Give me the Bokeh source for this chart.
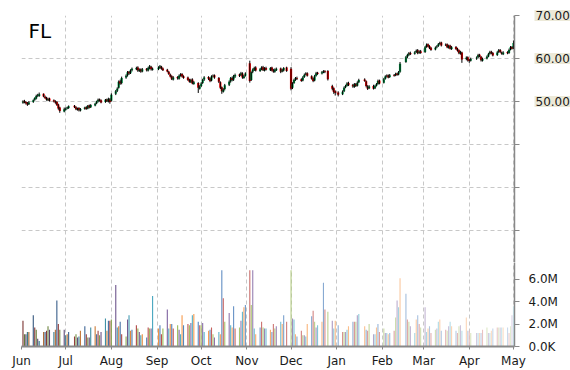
import datetime as dt
import pandas as pd
from bokeh.plotting import figure
from bokeh.models import (Range1d, FixedTicker, MonthsTicker, DatetimeTickFormatter, Label)
from bokeh.layouts import column, row
from bokeh.embed import file_html
from bokeh.resources import INLINE

ticker_symbol = "FL"
holidays = ["2014-07-04", "2014-09-01", "2014-11-27", "2014-12-25",
            "2015-01-01", "2015-01-19", "2015-02-16", "2015-04-03"]
first_day = "2014-06-02"
last_day = "2015-05-01"

# ---- prices (Jun 2014 .. May 2015), one value per trading day ----
opens = [
    # Jun
    49.7, 50.1, 49.9, 49.7, 49.4, 49.9, 50.4, 50.7, 51.4, 51.3, 51.8, 51.1, 50.9, 50.3, 50.7, 50.3, 50.1, 49.9, 49.3, 48.6, 47.7,
    # Jul
    48.1, 48.4, 48.5, 49.0, 48.7, 48.1, 48.5, 47.9, 48.3, 48.7, 48.4, 49.1, 48.7, 49.1, 49.6, 50.0, 50.5, 50.3, 49.9, 50.5, 50.0, 50.5,
    # Aug
    50.2, 51.8, 52.5, 53.2, 54.7, 54.3, 55.6, 56.1, 56.9, 56.6, 57.3, 57.5, 57.9, 57.1, 57.5, 57.0, 57.6, 57.2, 57.7, 58.1, 57.4,
    # Sep
    57.5, 57.8, 58.1, 57.7, 57.4, 56.9, 56.3, 55.9, 55.1, 55.7, 55.3, 56.0, 56.4, 55.9, 55.6, 55.1, 54.5, 55.1, 54.1, 54.3, 53.0,
    # Oct
    53.6, 54.3, 55.1, 55.7, 55.4, 54.9, 55.9, 56.1, 55.5, 54.5, 53.3, 52.3, 52.9, 53.9, 54.7, 55.5, 55.1, 55.8, 56.3, 56.1, 56.5, 55.5, 56.0,
    # Nov
    58.9, 55.0, 56.9, 57.3, 57.9, 57.1, 57.6, 58.0, 57.2, 57.8, 57.3, 57.9, 57.3, 56.9, 57.3, 57.7, 57.0, 57.2, 57.9,
    # Dec
    57.6, 53.2, 54.3, 55.1, 55.5, 55.2, 54.9, 55.7, 56.3, 56.6, 55.9, 55.4, 54.9, 56.0, 56.7, 56.5, 56.7, 57.1, 57.1, 53.6, 53.1, 52.4,
    # Jan
    52.1, 51.7, 52.4, 53.3, 53.7, 54.3, 53.9, 53.4, 54.1, 53.7, 54.5, 55.1, 54.7, 53.5, 53.1, 53.6, 53.1, 53.7, 54.1, 54.9,
    # Feb
    54.4, 55.3, 55.9, 56.1, 55.7, 56.2, 56.1, 56.5, 56.3, 56.9, 59.2, 60.4, 60.9, 61.3, 61.1, 61.5, 61.9, 61.3, 61.7,
    # Mar
    61.5, 62.7, 63.3, 62.9, 62.5, 62.1, 62.6, 62.9, 63.4, 63.7, 63.1, 63.3, 62.5, 63.0, 62.2, 62.7, 62.3, 61.9, 61.1, 61.4, 59.9, 60.3,
    # Apr
    59.7, 59.5, 60.0, 60.3, 60.9, 60.4, 59.5, 60.0, 60.5, 61.1, 61.6, 61.3, 60.8, 61.5, 62.0, 61.4, 61.0, 61.5, 61.3, 62.1, 62.7,
    # May
    62.4,
]
highs = [
    50.3, 50.4, 50.1, 49.9, 50.1, 50.5, 51.0, 51.6, 51.8, 52.1, 51.9, 51.4, 51.1, 50.9, 50.9, 50.5, 50.3, 50.1, 49.5, 48.8, 48.6,
    48.6, 48.8, 49.1, 49.2, 48.9, 48.6, 48.7, 48.5, 48.8, 48.9, 49.2, 49.3, 49.4, 49.7, 50.2, 50.7, 50.7, 50.5, 50.6, 50.7, 50.9, 50.8,
    51.9, 52.7, 53.3, 54.9, 55.1, 55.8, 56.3, 57.1, 57.1, 57.5, 57.9, 58.1, 58.2, 57.7, 57.7, 57.8, 57.8, 58.1, 58.5, 58.3, 57.9,
    58.2, 58.5, 58.3, 57.9, 57.6, 57.1, 56.5, 56.1, 55.9, 55.9, 56.3, 56.6, 56.6, 56.1, 55.8, 55.3, 55.3, 55.4, 54.8, 54.5, 53.8,
    54.5, 55.3, 55.9, 55.9, 55.6, 56.1, 56.3, 56.3, 55.7, 54.7, 53.5, 53.1, 54.1, 54.9, 55.7, 55.8, 56.2, 56.5, 56.5, 56.9, 56.8, 56.2, 56.8,
    59.5, 57.0, 57.7, 58.1, 58.2, 57.8, 58.2, 58.3, 58.0, 58.1, 58.0, 58.1, 57.6, 57.7, 57.9, 57.9, 57.6, 58.0, 58.1,
    58.0, 54.5, 55.3, 55.7, 55.8, 55.4, 55.9, 56.5, 56.8, 56.8, 56.1, 55.6, 56.2, 56.9, 56.9, 57.1, 57.3, 57.3, 57.3, 53.9, 53.3, 52.6,
    52.4, 52.6, 53.5, 53.9, 54.5, 54.6, 54.1, 54.3, 54.3, 54.7, 55.3, 55.4, 54.9, 53.8, 53.8, 53.9, 53.9, 54.3, 55.1, 55.1,
    55.5, 56.1, 56.3, 56.3, 56.4, 56.4, 56.7, 56.7, 57.1, 59.2, 60.6, 61.1, 61.5, 61.6, 61.7, 62.1, 62.2, 61.9, 62.0,
    62.9, 63.5, 63.5, 63.1, 62.7, 62.8, 63.1, 63.6, 63.9, 63.9, 63.5, 63.5, 63.2, 63.2, 62.9, 62.9, 62.5, 62.1, 61.8, 61.6, 60.5, 60.5,
    59.9, 60.2, 60.5, 61.1, 61.1, 60.6, 60.2, 60.7, 61.3, 61.8, 61.8, 61.5, 61.7, 62.2, 62.2, 61.6, 61.7, 61.7, 62.3, 62.9, 62.9,
    64.2,
]
lows = [
    49.5, 49.6, 49.3, 49.0, 49.2, 49.7, 50.2, 50.5, 51.1, 51.1, 51.0, 50.6, 50.2, 50.1, 50.0, 49.8, 49.5, 49.0, 48.1, 47.4, 47.5,
    47.9, 48.2, 48.3, 48.5, 48.0, 47.9, 47.7, 47.7, 48.1, 48.1, 48.2, 48.4, 48.5, 48.9, 49.4, 49.8, 50.0, 49.6, 49.7, 49.9, 49.8, 49.5,
    50.0, 51.5, 52.2, 53.0, 53.9, 54.0, 55.3, 55.8, 56.2, 56.4, 57.0, 57.3, 56.9, 56.9, 56.7, 56.8, 57.0, 57.0, 57.5, 57.2, 57.2,
    57.3, 57.6, 57.4, 57.1, 56.8, 56.2, 55.6, 55.0, 54.9, 55.1, 55.1, 55.8, 55.6, 55.3, 54.8, 54.4, 54.3, 54.0, 53.9, 52.0, 52.8,
    53.4, 54.1, 54.8, 55.0, 54.5, 54.7, 55.6, 55.3, 54.3, 52.9, 51.8, 52.1, 52.6, 53.6, 54.4, 54.7, 54.8, 55.5, 55.7, 55.9, 55.3, 55.3, 55.8,
    54.4, 54.8, 56.6, 57.1, 57.0, 56.9, 57.3, 57.1, 57.0, 57.2, 57.1, 57.0, 56.7, 56.7, 57.1, 56.6, 56.8, 57.0, 56.9,
    52.6, 52.9, 54.1, 54.8, 55.0, 54.6, 54.7, 55.5, 56.1, 55.8, 55.1, 54.5, 54.7, 55.8, 56.2, 56.3, 56.6, 56.6, 54.9, 52.6, 51.8, 51.4,
    51.2, 51.5, 52.2, 53.1, 53.5, 53.6, 53.2, 53.2, 53.4, 53.5, 54.3, 54.6, 53.3, 52.7, 52.9, 52.8, 52.9, 53.5, 53.9, 54.0,
    54.2, 55.1, 55.6, 55.4, 55.5, 55.8, 55.9, 56.0, 56.1, 56.7, 59.0, 60.1, 60.6, 60.8, 60.9, 61.3, 61.0, 61.1, 61.1,
    61.3, 62.5, 62.6, 62.2, 61.8, 61.9, 62.4, 62.7, 63.2, 62.8, 62.9, 62.4, 62.3, 62.1, 62.0, 62.0, 61.6, 61.0, 60.9, 59.0, 59.6, 59.3,
    59.0, 59.3, 59.7, 60.1, 60.3, 59.3, 59.3, 59.8, 60.3, 60.9, 61.0, 60.5, 60.6, 61.3, 61.3, 60.9, 60.8, 61.0, 61.1, 61.9, 62.1,
    62.2,
]
closes = [
    50.0, 49.8, 49.6, 49.3, 49.8, 50.3, 50.8, 51.3, 51.5, 51.7, 51.2, 50.8, 50.4, 50.6, 50.2, 50.0, 49.8, 49.2, 48.4, 47.8, 48.2,
    48.3, 48.6, 48.9, 48.7, 48.2, 48.4, 48.0, 48.3, 48.6, 48.3, 49.0, 48.6, 49.2, 49.5, 50.0, 50.4, 50.2, 49.8, 50.4, 50.1, 50.6, 49.9,
    51.6, 52.4, 53.0, 54.6, 54.2, 55.5, 56.0, 56.8, 56.5, 57.2, 57.6, 57.8, 57.2, 57.4, 57.0, 57.5, 57.3, 57.8, 58.2, 57.5, 57.6,
    57.9, 58.2, 57.6, 57.3, 57.0, 56.4, 55.8, 55.2, 55.6, 55.4, 56.0, 56.3, 55.8, 55.5, 55.0, 54.6, 55.0, 54.2, 54.5, 53.2, 53.5,
    54.2, 55.0, 55.6, 55.3, 54.8, 55.8, 56.0, 55.6, 54.6, 53.2, 52.4, 52.8, 53.8, 54.6, 55.4, 55.0, 55.9, 56.2, 56.0, 56.6, 55.6, 55.9, 56.5,
    54.8, 56.8, 57.4, 57.8, 57.2, 57.5, 57.9, 57.3, 57.7, 57.4, 57.8, 57.2, 57.0, 57.4, 57.6, 56.9, 57.3, 57.8, 57.1,
    53.0, 54.2, 55.0, 55.4, 55.3, 54.8, 55.6, 56.2, 56.5, 56.0, 55.3, 54.8, 55.9, 56.6, 56.4, 56.8, 57.0, 56.9, 55.2, 53.0, 52.2, 52.0,
    51.6, 52.3, 53.2, 53.6, 54.2, 53.8, 53.5, 54.0, 53.6, 54.4, 55.0, 54.8, 53.6, 53.0, 53.5, 53.0, 53.6, 54.0, 54.8, 54.2,
    55.2, 55.8, 56.0, 55.6, 56.1, 56.0, 56.4, 56.2, 56.8, 58.8, 60.3, 60.8, 61.2, 61.0, 61.4, 61.8, 61.2, 61.6, 61.3,
    62.6, 63.2, 62.8, 62.4, 62.0, 62.5, 62.8, 63.3, 63.6, 63.0, 63.2, 62.6, 62.9, 62.3, 62.6, 62.2, 61.8, 61.2, 61.5, 59.8, 60.2, 59.6,
    59.4, 59.9, 60.2, 60.8, 60.5, 59.6, 59.9, 60.4, 61.0, 61.5, 61.2, 60.7, 61.4, 61.9, 61.5, 61.1, 61.4, 61.2, 62.0, 62.6, 62.3,
    63.6,
]
# volume in millions of shares
volumes_m = [
    2.3, 1.1, 1.1, 1.3, 1.3, 2.8, 1.7, 1.5, 0.7, 0.5, 1.3, 1.3, 1.4, 1.8, 1.5, 1.3, 1.5, 4.1, 2.0, 1.5,
    1.5, 1.0, 1.1, 1.3, 0.9, 1.1, 0.8, 0.9, 1.4, 1.8, 1.1, 0.8, 0.8, 1.7, 1.8, 1.1, 1.4, 1.0, 1.3, 2.5,
    1.4, 2.3, 2.3, 2.4, 5.5, 1.7, 1.8, 2.2, 1.1, 0.9, 2.4, 2.8, 1.4, 1.5, 1.9, 1.6, 1.3,
    1.0, 1.1, 0.8, 1.7, 1.6, 1.6, 4.5, 1.6, 1.9, 1.1, 1.6, 3.3, 1.6, 2.0, 2.0, 1.6, 1.9,
    1.5, 1.1, 2.8, 1.9, 2.0, 1.9, 2.1, 2.8, 2.9, 2.2, 1.9, 1.9, 2.1, 1.3, 1.4, 1.5, 1.7, 1.1, 0.8, 1.3,
    1.1, 6.8, 4.3, 2.2, 3.0, 1.9, 1.7, 3.6, 1.6, 1.7, 2.3, 3.1, 3.5, 3.7, 6.8, 3.7, 6.8, 1.6, 1.1,
    1.7, 2.2, 1.7, 1.6,
    1.6, 1.5, 1.3, 2.0, 1.6, 1.8, 2.2, 2.0, 2.8, 2.2, 6.8, 2.5, 2.4, 1.1, 0.9, 1.4, 1.0, 1.0, 0.9,
    2.0, 2.7, 3.2, 2.2, 1.7, 1.9, 2.2, 5.7, 3.3, 3.1, 2.3, 1.6, 2.3, 1.9, 1.3, 1.3, 1.3, 1.5, 1.8,
    2.2, 2.2, 2.2, 2.8, 2.9, 1.8, 1.5, 1.4, 2.0, 1.1, 1.1, 1.7, 2.0, 1.3, 1.6, 1.2,
    1.2, 1.1, 1.2, 1.4, 2.6, 4.1, 3.5, 6.1, 4.7, 2.4, 2.2, 1.8, 1.2, 2.4, 2.8, 2.0, 1.7, 3.5,
    1.3, 1.6, 1.8, 1.2, 1.5, 1.6, 2.2, 2.4, 1.4, 1.5, 1.4, 1.8, 2.2, 1.8, 1.4, 1.2, 1.8, 1.9, 1.4, 2.6,
    1.4, 1.4, 1.2, 1.2, 1.2, 1.2, 1.2, 1.5, 1.7, 1.2, 1.2, 1.4, 1.6, 1.7, 1.7, 1.7, 1.7, 1.7, 1.7, 1.2,
    1.8, 2.8, 3.6,
]
price_ticks = [20, 30, 40, 50, 60, 70]
price_labeled = [50, 60, 70]
volume_ticks = [0, 2e6, 4e6, 6e6]
volume_labels = ["0.0K", "2.0M", "4.0M", "6.0M"]

# ---------------------------------------------------------------
dates = list(pd.bdate_range(first_day, last_day, freq="C", holidays=holidays))
n = min(len(dates), len(opens), len(highs), len(lows), len(closes), len(volumes_m))
dates = dates[:n]
opens, highs, lows, closes = opens[:n], highs[:n], lows[:n], closes[:n]
volumes = [v * 1e6 for v in volumes_m[:n]]

DAY = 86400000
FONT = "DejaVu Sans"
GRID = "#c8c8c8"
AXIS = "#888888"
TXT = "#1a1a1a"
LABEL_BG = "#ece9d8"
W = 570
LEFT = 21
PP_W = 522          # price panel incl. its tick strip
PP_RIGHT = 8
SIDE_W = W - PP_W   # strip holding the price labels
TOP_H, TOP_B = 262, 15
PRICE_LO, PRICE_HI = 12.6, 70.0
px_per_unit = (TOP_H - TOP_B) / (PRICE_HI - PRICE_LO)

x_range = Range1d(dt.datetime(2014, 6, 1), dt.datetime(2015, 5, 1, 17))

def no_align(p):
    try:
        p.frame_align = False
    except Exception:
        pass

def style_common(p):
    p.outline_line_color = None
    p.background_fill_color = "white"
    p.border_fill_color = "white"
    p.xgrid.ticker = MonthsTicker(months=list(range(12)))
    p.xgrid.grid_line_color = GRID
    p.xgrid.grid_line_dash = "4 3"
    for ax in p.yaxis:
        ax.axis_line_color = AXIS
        ax.axis_line_width = 1.5
        ax.major_tick_line_color = AXIS
        ax.major_tick_out = 5
        ax.major_tick_in = 0
        ax.minor_tick_line_color = None
        ax.major_label_standoff = 9
        ax.major_label_text_font = FONT
        ax.major_label_text_font_size = "12px"
        ax.major_label_text_color = TXT

# ---- price panel ----
pp = figure(width=PP_W, height=TOP_H, x_axis_type="datetime", x_range=x_range,
            y_range=Range1d(PRICE_LO, PRICE_HI), x_axis_location=None, y_axis_location="right",
            toolbar_location=None, output_backend="svg",
            min_border_left=LEFT, min_border_right=PP_RIGHT, min_border_top=TOP_B, min_border_bottom=0)
no_align(pp)
style_common(pp)
pp.ygrid.grid_line_color = GRID
pp.ygrid.grid_line_dash = "4 3"
pp.yaxis.ticker = FixedTicker(ticks=price_ticks)
pp.yaxis.major_label_overrides = {t: "" for t in price_ticks}
pp.yaxis.major_label_standoff = 0

body_colors = ["#00a84f" if c >= o else "#ff0000" for o, c in zip(opens, closes)]
pp.vbar(x=dates, width=1.5 * DAY, top=opens, bottom=closes,
        fill_color=body_colors, line_color=None)
pp.segment(x0=dates, y0=lows, x1=dates, y1=highs, line_color="black", line_width=1)

pp.add_layout(Label(x=7, y=232, x_units="screen", y_units="screen", text=ticker_symbol,
                    text_font=FONT, text_font_size="20px", text_color="black",
                    text_baseline="alphabetic"))

# ---- strip with the price tick labels (same price scale as the panel) ----
sp = figure(width=SIDE_W, height=TOP_H, x_range=Range1d(0, SIDE_W),
            y_range=Range1d(PRICE_LO, PRICE_HI + TOP_B / px_per_unit),
            x_axis_location=None, y_axis_location=None,
            toolbar_location=None, output_backend="svg",
            min_border_left=0, min_border_right=0, min_border_top=0, min_border_bottom=0)
no_align(sp)
sp.outline_line_color = None
sp.xgrid.visible = False
sp.ygrid.visible = False
for t in price_labeled:
    lab = Label(x=12, y=t, x_units="screen", y_units="data", text="%.2f" % t,
                text_font=FONT, text_font_size="12px", text_color=TXT,
                text_baseline="middle", text_align="left",
                background_fill_color=LABEL_BG)
    try:
        lab.padding = 1
    except Exception:
        pass
    sp.add_layout(lab)

# ---- volume panel ----
pv = figure(width=W, height=370 - TOP_H, x_axis_type="datetime", x_range=x_range,
            y_range=Range1d(0, 7.5e6), y_axis_location="right",
            toolbar_location=None, output_backend="svg",
            min_border_left=LEFT, min_border_right=W - PP_W + PP_RIGHT,
            min_border_top=0, min_border_bottom=24)
no_align(pv)
style_common(pv)
pv.ygrid.visible = False
pv.yaxis.ticker = FixedTicker(ticks=volume_ticks)
pv.yaxis.major_label_overrides = {t: s for t, s in zip(volume_ticks, volume_labels)}

pv.xaxis.ticker = MonthsTicker(months=list(range(12)))
pv.xaxis.formatter = DatetimeTickFormatter(months="%b", days="%b", years="%b")
pv.xaxis.axis_line_color = AXIS
pv.xaxis.axis_line_width = 2
pv.xaxis.major_tick_line_color = AXIS
pv.xaxis.major_tick_out = 3
pv.xaxis.major_tick_in = 0
pv.xaxis.minor_tick_line_color = None
pv.xaxis.major_label_standoff = 4
pv.xaxis.major_label_text_font = FONT
pv.xaxis.major_label_text_font_size = "12px"
pv.xaxis.major_label_text_color = TXT

palette = ["#4F81BD", "#C0504D", "#9BBB59", "#8064A2", "#4BACC6", "#F79646"]

def shade(hexc, t):
    r, g, b = int(hexc[1:3], 16), int(hexc[3:5], 16), int(hexc[5:7], 16)
    if t < 0.3:
        f = 0.65 + 0.35 * t / 0.3
        r, g, b = r * f, g * f, b * f
    else:
        w = 0.72 * (t - 0.3) / 0.7
        r, g, b = r + (255 - r) * w, g + (255 - g) * w, b + (255 - b) * w
    return "#%02x%02x%02x" % (int(r), int(g), int(b))

vol_colors = [shade(palette[(i + 1) % 6], i / max(n - 1, 1)) for i in range(n)]
pv.vbar(x=dates, width=0.75 * DAY, top=volumes, bottom=0,
        fill_color=vol_colors, line_color=None)

layout = column(row(pp, sp, spacing=0), pv, spacing=0)
open("out.html", "w").write(file_html(layout, INLINE))
